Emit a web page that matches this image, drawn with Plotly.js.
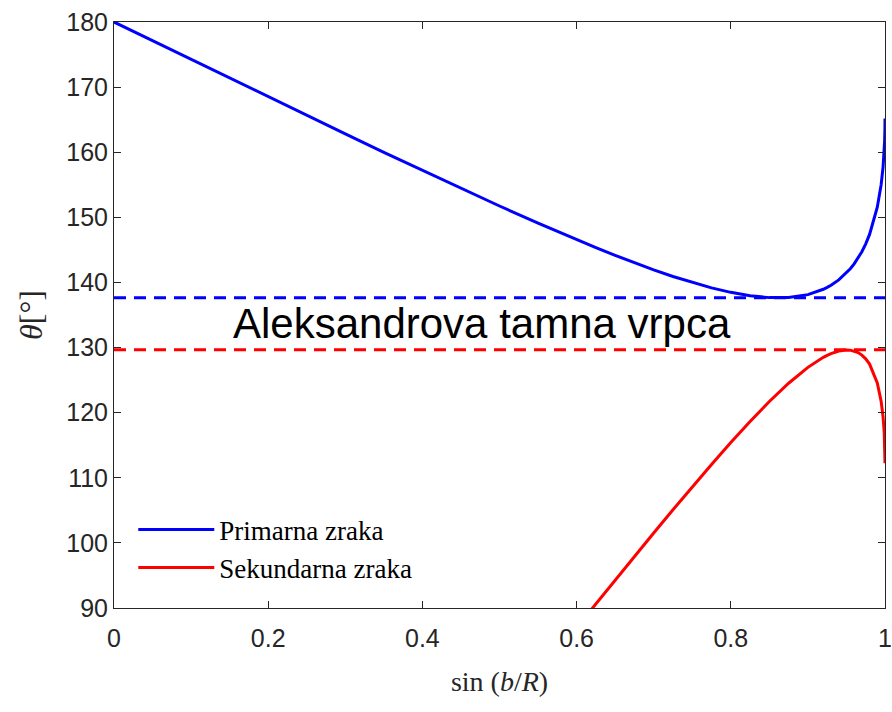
<!DOCTYPE html>
<html>
<head>
<meta charset="utf-8">
<script src="https://cdn.plot.ly/plotly-3.0.1.min.js"></script>
<style>html,body{margin:0;padding:0;background:#fff;}#chart{width:892px;height:712px;}</style>
</head>
<body>
<div id="chart"></div>
<script>
// sin(b/R) sample positions and read-off angles (degrees)
const primaryX = [0, 0.05, 0.1, 0.15, 0.2, 0.25, 0.3, 0.35, 0.4, 0.45, 0.5, 0.55, 0.6, 0.625, 0.65, 0.675, 0.7, 0.725, 0.75, 0.775, 0.8, 0.825, 0.85, 0.862, 0.875, 0.9, 0.91, 0.92, 0.925, 0.93, 0.94, 0.95, 0.955, 0.96, 0.965, 0.97, 0.975, 0.98, 0.99, 0.995, 0.9975, 0.999, 0.9995, 0.9999, 0.99999, 1];
const primaryY = [180, 177.12, 174.24, 171.37, 168.51, 165.65, 162.82, 159.99, 157.20, 154.44, 151.74, 149.10, 146.56, 145.34, 144.16, 143.01, 141.93, 140.91, 139.99, 139.17, 138.48, 137.96, 137.67, 137.64, 137.68, 138.13, 138.48, 138.95, 139.24, 139.57, 140.39, 141.45, 142.10, 142.85, 143.71, 144.72, 145.93, 147.38, 151.56, 155.02, 157.73, 160.32, 161.69, 163.59, 164.67, 165.18];
const secondaryX = [0.55, 0.575, 0.6, 0.625, 0.65, 0.675, 0.7, 0.725, 0.75, 0.775, 0.8, 0.825, 0.85, 0.875, 0.9, 0.91, 0.92, 0.925, 0.93, 0.94, 0.95, 0.955, 0.96, 0.965, 0.97, 0.975, 0.98, 0.99, 0.995, 0.9975, 0.999, 0.9995, 0.9999, 0.99999, 1];
const secondaryY = [79.72, 83.37, 87.03, 90.68, 94.30, 97.93, 101.53, 105.09, 108.60, 112.05, 115.41, 118.65, 121.71, 124.52, 126.96, 127.79, 128.50, 128.81, 129.08, 129.47, 129.64, 129.60, 129.47, 129.23, 128.84, 128.27, 127.46, 124.56, 121.74, 119.36, 116.96, 115.66, 113.81, 112.73, 112.23];
const primaryMin = 137.64;
const secondaryMax = 129.66;
const dashX = [0, 1];
const xTicks = [0, 0.2, 0.4, 0.6, 0.8, 1];
const xTickText = ["0", "0.2", "0.4", "0.6", "0.8", "1"];
const yTicks = [90, 100, 110, 120, 130, 140, 150, 160, 170, 180];
const seriesNames = ["Primarna zraka", "Sekundarna zraka"];
const bandLabel = "Aleksandrova tamna vrpca";

const traces = [
  {x: dashX, y: [primaryMin, primaryMin], mode: 'lines', showlegend: false, hoverinfo: 'skip',
   line: {color: '#0000ff', width: 3, dash: '12px,8px'}},
  {x: dashX, y: [secondaryMax, secondaryMax], mode: 'lines', showlegend: false, hoverinfo: 'skip',
   line: {color: '#ff0000', width: 3, dash: '12px,8px'}},
  {x: primaryX, y: primaryY, mode: 'lines', name: seriesNames[0],
   line: {color: '#0000ff', width: 3}},
  {x: secondaryX, y: secondaryY, mode: 'lines', name: seriesNames[1],
   line: {color: '#ff0000', width: 3}}
];

const axisCommon = {
  showgrid: false, zeroline: false, showline: true, linecolor: '#262626', linewidth: 1,
  mirror: 'ticks', ticks: 'inside', ticklen: 7, tickcolor: '#262626', tickwidth: 1,
  tickfont: {family: 'Liberation Sans, Arial, sans-serif', size: 25, color: '#262626'}
};

const layout = {
  width: 892, height: 712,
  margin: {l: 114, r: 7, t: 22, b: 104},
  paper_bgcolor: '#ffffff', plot_bgcolor: '#ffffff',
  xaxis: Object.assign({}, axisCommon, {
    range: [0, 1], tickvals: xTicks, ticktext: xTickText, ticklabelstandoff: 8,
    title: {text: 'sin (<i>b</i>/<i>R</i>)', standoff: 20,
      font: {family: 'Liberation Serif, Times New Roman, serif', size: 28, color: '#262626'}}
  }),
  yaxis: Object.assign({}, axisCommon, {
    range: [90, 180], tickvals: yTicks,
    title: {text: '<i>θ</i>[°]', standoff: 14,
      font: {family: 'Liberation Serif, Times New Roman, serif', size: 32, color: '#262626'}}
  }),
  legend: {
    x: 0.025, y: 0.175, xanchor: 'left', yanchor: 'top',
    bgcolor: 'rgba(255,255,255,0)', borderwidth: 0,
    font: {family: 'Liberation Serif, Times New Roman, serif', size: 27, color: '#000000'},
    itemwidth: 76
  },
  annotations: [{
    xref: 'paper', yref: 'y', x: 0.4767, y: 133.7, text: bandLabel, showarrow: false,
    font: {family: 'Liberation Sans, Arial, sans-serif', size: 42, color: '#000000'}
  }]
};

Plotly.newPlot('chart', traces, layout, {staticPlot: true, displayModeBar: false});
</script>
</body>
</html>
